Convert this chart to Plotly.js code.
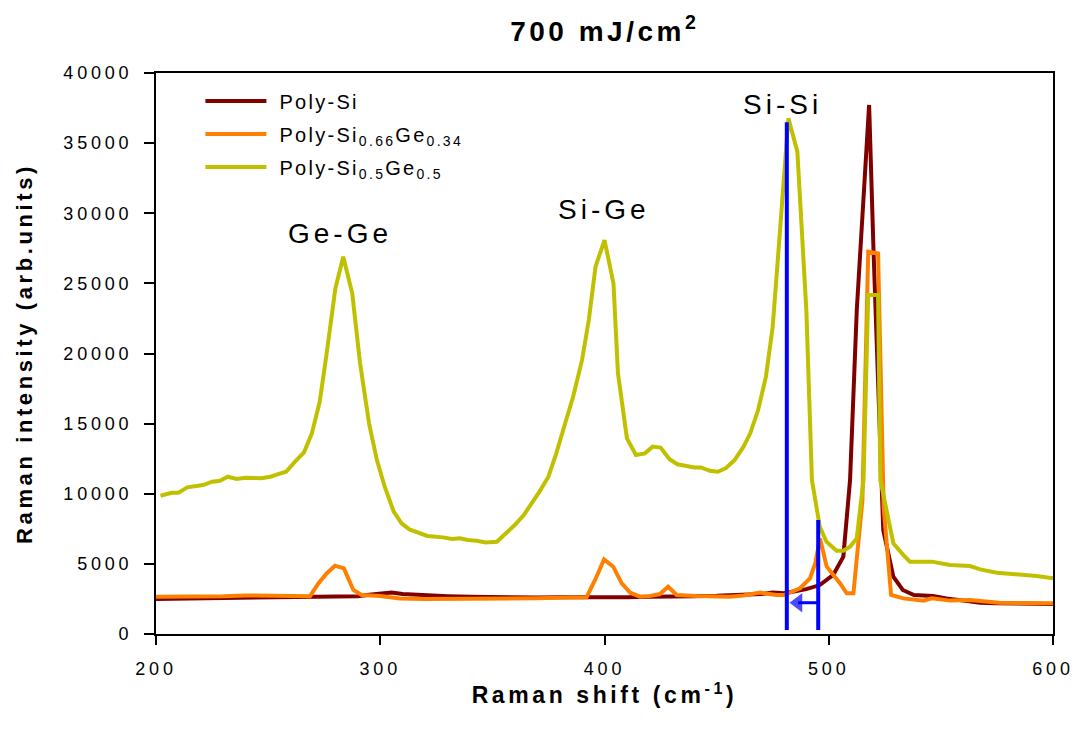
<!DOCTYPE html>
<html>
<head>
<meta charset="utf-8">
<script src="https://cdn.plot.ly/plotly-3.0.1.min.js"></script>
<style>
  html, body { margin: 0; padding: 0; background: #fff; }
  #chart { width: 1079px; height: 732px; }
  /* the reference typesets every label with wide letter spacing */
  #chart .xtick text, #chart .ytick text { letter-spacing: 3.8px; }
  #chart .gtitle { letter-spacing: 3.5px; }
  #chart .xtitle, #chart .ytitle { letter-spacing: 3.6px; }
  #chart .annotation-text { letter-spacing: 4px; }
  .legendtext { letter-spacing: 2.3px; }
  #chart .legendtext { transform: translate(8px, 0px); }
  #chart .legend .scrollbox { clip-path: none; }
</style>
</head>
<body>
<div id="chart"></div>
<script>
// ---- Data ----
const seriesNames = ["Poly-Si", "Poly-Si<sub>0.66</sub>Ge<sub>0.34</sub>", "Poly-Si<sub>0.5</sub>Ge<sub>0.5</sub>"];

// Poly-Si
const polySiX = [200, 210, 220, 230, 240, 250, 260, 270, 280, 290, 295, 300, 305, 310, 320, 330, 340, 350, 360, 370, 380, 390, 400, 410, 420, 430, 440, 450, 460, 470, 475, 480, 485, 490, 496, 502, 506.5, 509.5, 512.5, 518, 520, 524.3, 528.8, 533, 538, 546.5, 552.5, 560, 567.5, 575, 585, 600];
const polySiY = [2500, 2520, 2540, 2560, 2580, 2600, 2620, 2640, 2660, 2700, 2800, 2900, 2950, 2850, 2750, 2700, 2650, 2620, 2600, 2600, 2620, 2600, 2620, 2620, 2650, 2700, 2700, 2720, 2780, 2850, 2950, 2900, 3050, 3200, 3490, 4210, 5510, 10980, 23100, 37720, 27170, 7420, 4090, 3140, 2780, 2710, 2540, 2400, 2230, 2200, 2180, 2140];

// Poly-Si0.66Ge0.34
const siGe34X = [200, 210, 220, 230, 240, 250, 260, 268.7, 272.4, 276, 279.8, 283.8, 288, 291.7, 300, 308.8, 320, 330, 340, 350, 360, 370, 380, 389, 392, 395.8, 399.8, 403.9, 407.7, 411.4, 415.8, 420, 424.7, 428.4, 432.2, 441, 450, 455.8, 462, 469.4, 476.8, 480, 487.2, 491.6, 494, 496.1, 499.1, 505.1, 508, 511, 515, 517.6, 522, 524.5, 527.8, 533.3, 542.3, 546, 554, 563, 576, 590, 600];
const siGe34Y = [2660, 2650, 2650, 2700, 2750, 2720, 2700, 2700, 3610, 4300, 4870, 4680, 3140, 2780, 2710, 2540, 2500, 2500, 2520, 2520, 2530, 2550, 2580, 2600, 2620, 3850, 5320, 4800, 3610, 2950, 2660, 2700, 2850, 3370, 2780, 2710, 2680, 2660, 2750, 2950, 2780, 2780, 3260, 3970, 5040, 6820, 4800, 3610, 2900, 2900, 9500, 27260, 27140, 9000, 2780, 2540, 2380, 2540, 2380, 2420, 2230, 2220, 2190];

// Poly-Si0.5Ge0.5
const siGe50X = [202, 207, 210, 214, 221, 225, 228.5, 232, 236, 240, 247, 251, 254.5, 258, 262, 266, 269.5, 273, 276, 280, 283.5, 287.5, 291, 295, 298.5, 302, 306, 309.5, 313, 321, 328, 332, 335.5, 339, 343, 347, 352, 356, 360, 364, 367.5, 371, 375, 378.5, 382, 386, 390, 393, 396, 400, 404, 406, 410, 414, 418, 421.5, 425, 429, 432.5, 436, 440, 443, 447, 450.5, 454, 458, 462, 465, 468.5, 472, 475, 477.5, 482, 486, 490, 492.5, 496, 499, 503.5, 506.5, 509.5, 512.5, 515.5, 517.6, 522, 523, 528.8, 533.3, 536.2, 546, 554, 563, 567.5, 575, 582.3, 592.7, 600];
const siGe50Y = [9860, 10075, 10075, 10460, 10620, 10860, 10930, 11215, 11050, 11145, 11100, 11215, 11400, 11570, 12285, 12950, 14300, 16560, 19890, 24650, 26900, 24290, 19300, 15020, 12400, 10500, 8720, 7890, 7460, 6990, 6890, 6770, 6820, 6700, 6650, 6530, 6580, 7180, 7770, 8480, 9270, 10150, 11215, 12880, 14780, 16920, 19540, 22390, 26190, 28090, 25000, 18590, 13950, 12760, 12880, 13360, 13290, 12460, 12100, 12000, 11880, 11880, 11640, 11570, 11810, 12400, 13360, 14310, 15970, 18350, 21910, 27140, 36770, 34390, 23100, 10980, 7650, 6580, 5940, 5940, 6220, 6820, 10980, 24170, 24170, 10980, 6470, 5630, 5160, 5160, 4920, 4850, 4610, 4370, 4280, 4140, 3970];

// Peak-shift markers (blue)
const markerLeftX = [481.3, 481.3];
const markerLeftY = [285, 36485];
const markerRightX = [495.3, 495.3];
const markerRightY = [285, 8130];
const shiftArrowX = [495.3, 486.3];
const shiftArrowY = [2230, 2230];

// Peak labels
const peakLabels = ["Ge-Ge", "Si-Ge", "Si-Si"];
const peakLabelX = [282, 399.8, 479.2];
const peakLabelY = [28590, 30300, 37790];

// Axis ticks
const xTicks = [200, 300, 400, 500, 600];
const yTicks = [0, 5000, 10000, 15000, 20000, 25000, 30000, 35000, 40000];

// ---- Plot ----
const FONT = "Liberation Sans, Arial, Helvetica, sans-serif";
const colors = ["#800000", "#FF8000", "#C0C000"];
const BLUE = "#0000FF";

const traces = [
  { x: polySiX, y: polySiY, name: seriesNames[0] },
  { x: siGe34X, y: siGe34Y, name: seriesNames[1] },
  { x: siGe50X, y: siGe50Y, name: seriesNames[2] }
].map((t, i) => Object.assign(t, {
  type: "scatter", mode: "lines", legendgroup: "g" + i,
  line: { color: colors[i], width: 4, shape: "linear" }
}));

traces.push({ x: markerLeftX, y: markerLeftY, type: "scatter", mode: "lines",
  line: { color: BLUE, width: 4 }, showlegend: false, hoverinfo: "skip" });
traces.push({ x: markerRightX, y: markerRightY, type: "scatter", mode: "lines",
  line: { color: BLUE, width: 4 }, showlegend: false, hoverinfo: "skip" });
traces.push({ x: shiftArrowX, y: shiftArrowY, type: "scatter", mode: "lines+markers",
  line: { color: BLUE, width: 3 },
  marker: { symbol: "triangle-left", size: [0.1, 17], color: BLUE, line: { width: 0 } },
  showlegend: false, hoverinfo: "skip" });

const annotations = peakLabels.map((t, i) => ({
  x: peakLabelX[i], y: peakLabelY[i], xref: "x", yref: "y",
  text: t, showarrow: false, xanchor: "center", yanchor: "middle",
  font: { family: FONT, size: 28, color: "#000" }
}));

const layout = {
  width: 1079, height: 732,
  margin: { l: 156, r: 26, t: 73, b: 98 },
  paper_bgcolor: "#fff", plot_bgcolor: "#fff",
  font: { family: FONT, color: "#000" },
  title: {
    text: "<b>700 mJ/cm<sup>2</sup></b>",
    font: { family: FONT, size: 28, color: "#000" },
    x: 0.5605, xref: "container", xanchor: "center",
    y: 0.958, yref: "container", yanchor: "middle"
  },
  xaxis: {
    range: [200, 600], tickvals: xTicks, ticktext: xTicks.map(String),
    ticks: "outside", ticklen: 9, tickwidth: 2, tickcolor: "#000",
    showline: true, linecolor: "#000", linewidth: 2, mirror: true,
    showgrid: false, zeroline: false,
    ticklabelstandoff: 8,
    tickfont: { family: FONT, size: 18, color: "#000" },
    title: { text: "<b>Raman shift (cm<sup>-1</sup>)</b>", standoff: 3,
      font: { family: FONT, size: 23, color: "#000" } }
  },
  yaxis: {
    range: [0, 40000], tickvals: yTicks, ticktext: yTicks.map(String),
    ticks: "outside", ticklen: 10, tickwidth: 2, tickcolor: "#000",
    showline: true, linecolor: "#000", linewidth: 2, mirror: true,
    showgrid: false, zeroline: false,
    ticklabelstandoff: 8,
    tickfont: { family: FONT, size: 18, color: "#000" },
    title: { text: "<b>Raman intensity (arb.units)</b>", standoff: 44,
      font: { family: FONT, size: 22, color: "#000" } }
  },
  showlegend: true,
  legend: {
    x: 0.0495, y: 0.985, xanchor: "left", yanchor: "top",
    bgcolor: "rgba(0,0,0,0)", borderwidth: 0,
    font: { family: FONT, size: 20, color: "#000" },
    itemwidth: 61, tracegroupgap: 4, traceorder: "grouped"
  },
  annotations: annotations
};

Plotly.newPlot("chart", traces, layout, { displayModeBar: false, staticPlot: true });
</script>
</body>
</html>
